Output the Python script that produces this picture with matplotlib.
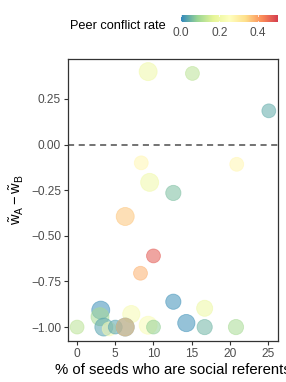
import numpy as np
import matplotlib
matplotlib.use("Agg")
import matplotlib.pyplot as plt
from matplotlib.colors import LinearSegmentedColormap, Normalize

plt.rcParams['font.family'] = ['Liberation Sans', 'DejaVu Sans']
plt.rcParams['mathtext.fontset'] = 'custom'
plt.rcParams['mathtext.rm'] = 'Liberation Sans'
plt.rcParams['mathtext.it'] = 'Liberation Sans'

# data
pct_seeds = [9.3, 15.1, 25.1, 8.4, 20.9, 9.5, 12.6, 6.3, 10.0, 8.3,
             12.6, 3.1, 3.0, 7.1, 16.7, 14.3, 0.0, 3.5, 4.2, 5.0,
             6.3, 6.3, 9.3, 10.0, 16.7, 20.8]
w_diff = [0.40, 0.39, 0.185, -0.10, -0.108, -0.207, -0.265, -0.394, -0.61, -0.705,
          -0.861, -0.907, -0.943, -0.929, -0.897, -0.978, -1.0, -1.0, -1.01, -1.0,
          -1.0, -1.0, -0.99, -1.0, -1.0, -1.0]
conflict = [0.20, 0.12, 0.04, 0.27, 0.27, 0.20, 0.06, 0.36, 0.47, 0.38,
            0.01, 0.01, 0.10, 0.22, 0.19, 0.01, 0.12, 0.03, 0.22, 0.03,
            0.0, 0.36, 0.23, 0.08, 0.05, 0.10]
pt_size = [2, 1, 1, 1, 1, 2, 1.3, 2, 1, 1,
           1.3, 2, 2, 1.8, 1.5, 1.8, 1, 2, 1, 1,
           2, 2, 2, 1, 1.3, 1.3]

spectral7 = ['#3288bd', '#99d594', '#e6f598', '#ffffbf', '#fee08b', '#fc8d59', '#d53e4f']
cmap = LinearSegmentedColormap.from_list('spec', spectral7)
norm = Normalize(0, 0.5)

fig = plt.figure(figsize=(2.86, 3.82), dpi=100)
ax = fig.add_axes([0.238, 0.107, 0.734, 0.739])

ax.axhline(0, color='#4d4d4d', lw=1.1, ls=(0, (4, 3)), zorder=1)
sizes = [100 + (s - 1) * 68 for s in pt_size]
ax.scatter(pct_seeds, w_diff, c=conflict, cmap=cmap, norm=norm, s=sizes,
           alpha=0.55, linewidths=0.6, edgecolors=cmap(norm(np.array(conflict))), zorder=2)

ax.set_xlim(-1.18, 26.3)
ax.set_ylim(-1.077, 0.47)
ax.set_xticks([0, 5, 10, 15, 20, 25])
ax.set_yticks([0.25, 0, -0.25, -0.5, -0.75, -1.0])
ax.set_yticklabels(['0.25', '0.00', '\u22120.25', '\u22120.50', '\u22120.75', '\u22121.00'])
ax.tick_params(colors='#333333', labelcolor='#4d4d4d', labelsize=8.6, length=3, width=0.8, pad=2)
for sp in ax.spines.values():
    sp.set_color('#333333')
    sp.set_linewidth(0.9)
ax.set_xlabel('% of seeds who are social referents', fontsize=10.7, labelpad=2)
ax.set_ylabel(r'$\tilde{\mathrm{w}}_\mathrm{A} - \tilde{\mathrm{w}}_\mathrm{B}$', fontsize=10.5, labelpad=4)

# colour legend on top
cax = fig.add_axes([0.633, 0.942, 0.336, 0.019])
grad = np.linspace(0, 0.5, 256).reshape(1, -1)
cax.imshow(grad, aspect='auto', cmap=cmap, norm=norm, extent=[0, 0.5, 0, 1])
for v in [0.0, 0.2, 0.4]:
    cax.plot([v, v], [0, 0.2], color='white', lw=0.6)
    cax.plot([v, v], [0.8, 1], color='white', lw=0.6)
cax.set_xlim(0, 0.5)
cax.set_ylim(0, 1)
cax.set_yticks([])
cax.set_xticks([0.0, 0.2, 0.4])
cax.set_xticklabels(['0.0', '0.2', '0.4'])
cax.tick_params(length=0, labelsize=8.6, labelcolor='#4d4d4d', pad=3.5)
for sp in cax.spines.values():
    sp.set_visible(False)
fig.text(0.245, 0.932, 'Peer conflict rate', fontsize=9.2, va='center')

fig.savefig('out.png', dpi=100)
